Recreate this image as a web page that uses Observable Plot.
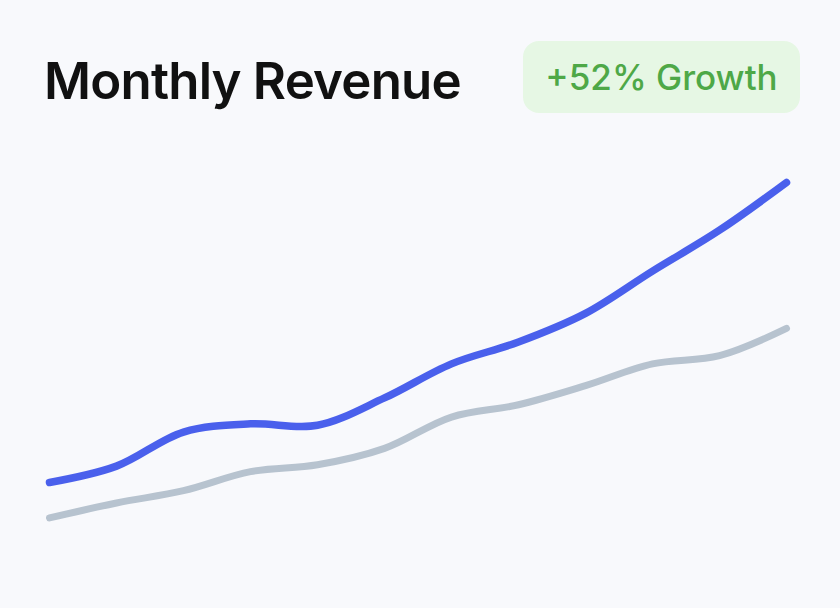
<!DOCTYPE html>
<html>
<head>
<meta charset="utf-8">
<script src="https://cdn.jsdelivr.net/npm/d3@7"></script>
<script src="https://cdn.jsdelivr.net/npm/@observablehq/plot@0.6"></script>
<style>
  html, body { margin: 0; padding: 0; background: #f8f9fc; }
  #wrap { width: 840px; height: 608px; position: relative; overflow: hidden; background: #f8f9fc; }
  #header { position: relative; height: 140px; }
  #title { position: absolute; left: 44px; top: 55px; font-family: Inter, "Noto Sans", sans-serif; font-weight: 600; font-size: 51px; color: #111; letter-spacing: -0.8px; line-height: 1; white-space: nowrap; }
  #badge { position: absolute; left: 523px; top: 41px; width: 277px; height: 72px; border-radius: 16px; background: #e6f7e4; display: flex; align-items: center; justify-content: center; font-family: Inter, "Noto Sans", sans-serif; font-weight: 500; font-size: 35px; color: #4ea847; }
  svg { display: block; }
</style>
</head>
<body>
<div id="wrap">
  <div id="header">
    <div id="title">Monthly Revenue</div>
    <div id="badge">+52% Growth</div>
  </div>
  <div id="chart"></div>
</div>
<script>
const months = ["Jan","Feb","Mar","Apr","May","Jun","Jul","Aug","Sep","Oct","Nov","Dec"];
const current = [42.0, 43.2, 45.7, 46.3, 46.2, 48.2, 50.7, 52.3, 54.4, 57.5, 60.5, 64.0];
const previous = [39.4, 40.5, 41.4, 42.8, 43.3, 44.5, 46.8, 47.7, 49.1, 50.7, 51.3, 53.3];

const rows = months.flatMap((m, i) => [
  {month: m, value: previous[i], series: "Previous"},
  {month: m, value: current[i], series: "Current"}
]);

const chart = Plot.plot({
  width: 840,
  height: 468,
  marginLeft: 48,
  marginRight: 53,
  marginTop: 0,
  marginBottom: 0,
  style: {background: "transparent"},
  x: {type: "point", domain: months, axis: null, padding: 0},
  y: {domain: [42, 64], range: [342, 42], axis: null},
  marks: [
    Plot.line(rows.filter(d => d.series === "Previous"), {
      x: "month", y: "value", stroke: "#b7c3cf", strokeWidth: 7,
      curve: "catmull-rom", strokeLinecap: "round", strokeLinejoin: "round"
    }),
    Plot.line(rows.filter(d => d.series === "Current"), {
      x: "month", y: "value", stroke: "#4a60ec", strokeWidth: 7.5,
      curve: "catmull-rom", strokeLinecap: "round", strokeLinejoin: "round"
    })
  ]
});
document.getElementById("chart").appendChild(chart);
</script>
</body>
</html>
